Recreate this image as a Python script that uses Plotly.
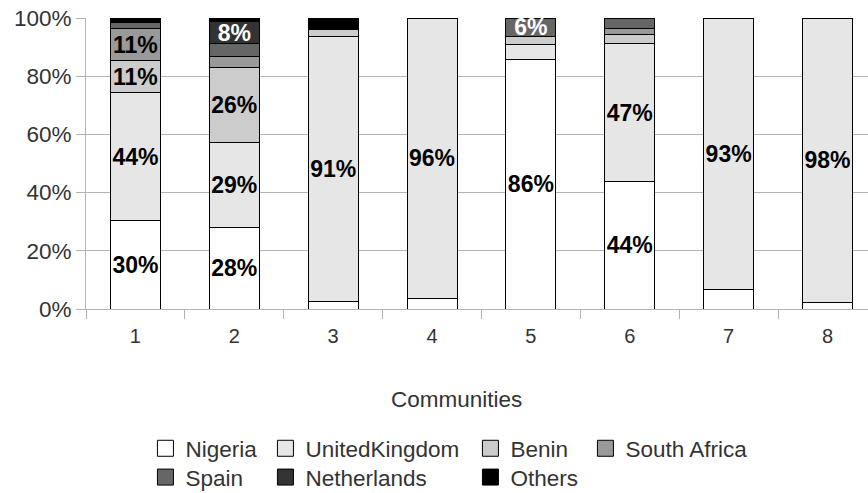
import plotly.graph_objects as go

# Share of members by country, per community (percent of each community)
communities = ["1", "2", "3", "4", "5", "6", "7", "8"]

nigeria = [30.3, 27.9, 2.6, 3.6, 85.9, 43.7, 6.6, 2.4]
united_kingdom = [44.0, 29.2, 90.9, 96.4, 4.9, 47.4, 93.4, 97.6]
benin = [11.0, 25.9, 2.5, None, 2.9, 3.4, None, None]
south_africa = [11.0, 3.8, None, None, None, 2.0, None, None]
spain = [2.2, 4.3, None, None, 6.3, 3.5, None, None]
netherlands = [None, 7.7, None, None, None, None, None, None]
others = [1.5, 1.2, 4.0, None, None, None, None, None]

# which segments carry a value label
label_nigeria = [1, 1, 0, 0, 1, 1, 0, 0]
label_uk = [1, 1, 1, 1, 0, 1, 1, 1]
label_benin = [1, 1, 0, 0, 0, 0, 0, 0]
label_south_africa = [1, 0, 0, 0, 0, 0, 0, 0]
label_spain = [0, 0, 0, 0, 1, 0, 0, 0]
label_netherlands = [0, 1, 0, 0, 0, 0, 0, 0]
label_others = [0, 0, 0, 0, 0, 0, 0, 0]

y_ticks = [0, 20, 40, 60, 80, 100]

# name, values, label flags, fill, label colour, legend row, legend column width
series = [
    ("Nigeria", nigeria, label_nigeria, "#ffffff", "#000000", "legend", 75),
    ("UnitedKingdom", united_kingdom, label_uk, "#e6e6e6", "#000000", "legend", 160),
    ("Benin", benin, label_benin, "#cccccc", "#000000", "legend", 70),
    ("South Africa", south_africa, label_south_africa, "#999999", "#000000", "legend", 130),
    ("Spain", spain, label_spain, "#666666", "#ffffff", "legend2", 75),
    ("Netherlands", netherlands, label_netherlands, "#333333", "#ffffff", "legend2", 160),
    ("Others", others, label_others, "#000000", "#ffffff", "legend2", 70),
]

FONT = "Liberation Sans, Arial, sans-serif"
TEXT_GREY = "#333333"
AXIS_GREY = "#b3b3b3"

fig = go.Figure()

for name, values, flags, color, txtcolor, row, lw in series:
    text = [f"{v:.0f}%" if (v is not None and f) else "" for v, f in zip(values, flags)]
    fig.add_trace(go.Bar(
        x=communities,
        y=values,
        name=name,
        width=0.506,
        marker=dict(color=color, line=dict(color="#000000", width=1)),
        text=text,
        textposition="inside",
        insidetextanchor="middle",
        textangle=0,
        textfont=dict(family=FONT, size=23, color=txtcolor, weight="bold"),
        showlegend=False,
        hoverinfo="skip",
    ))

# legend entries with larger square swatches, two rows in aligned columns
for name, values, flags, color, txtcolor, row, lw in series:
    fig.add_trace(go.Scatter(
        x=[None], y=[None],
        mode="markers",
        name=name,
        legend=row,
        legendwidth=lw,
        marker=dict(symbol="square", size=16, color=color,
                    line=dict(color="#000000", width=1)),
    ))

legend_style = dict(
    orientation="h",
    traceorder="normal",
    xanchor="left",
    yanchor="top",
    x=0.076,
    font=dict(family=FONT, size=22.5, color=TEXT_GREY),
    bgcolor="rgba(0,0,0,0)",
)

fig.update_layout(
    barmode="stack",
    width=868, height=493,
    margin=dict(l=86, r=0, t=18, b=184, autoexpand=False),
    paper_bgcolor="white",
    plot_bgcolor="white",
    font=dict(family=FONT, size=22.5, color=TEXT_GREY),
    uniformtext=dict(minsize=23, mode="show"),
    legend=dict(legend_style, y=-0.406),
    legend2=dict(legend_style, y=-0.505),
    annotations=[dict(
        text="Communities",
        xref="paper", yref="paper",
        x=0.474, y=-0.312,
        xanchor="center", yanchor="middle",
        showarrow=False,
        font=dict(family=FONT, size=22.5, color=TEXT_GREY),
    )],
    xaxis=dict(
        type="category",
        categoryorder="array",
        categoryarray=communities,
        range=[-0.5, 7.41],
        tickson="boundaries",
        ticks="outside",
        ticklen=9,
        tickcolor=AXIS_GREY,
        showline=True,
        linecolor=AXIS_GREY,
        showgrid=False,
        ticklabelstandoff=9,
        tickfont=dict(family=FONT, size=20, color=TEXT_GREY),
    ),
    yaxis=dict(
        range=[0, 100],
        tickvals=y_ticks,
        ticktext=[f"{v}%" for v in y_ticks],
        ticks="outside",
        ticklen=9,
        tickcolor=AXIS_GREY,
        showline=True,
        linecolor=AXIS_GREY,
        showgrid=True,
        gridcolor=AXIS_GREY,
        zeroline=False,
        tickfont=dict(family=FONT, size=22.5, color=TEXT_GREY),
    ),
)

fig.write_html("out.html")
